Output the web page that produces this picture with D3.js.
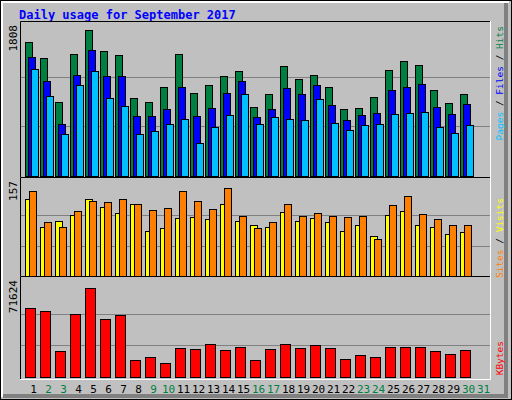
<!DOCTYPE html>
<html>
<head>
<script src="https://cdn.jsdelivr.net/npm/d3@7"></script>
<style>
body { margin: 0; background: #fff; }
text { font-family: "DejaVu Sans Mono", monospace; }
</style>
</head>
<body>
<svg id="chart" width="512" height="400"></svg>
<script>
var days = d3.range(1, 32);
var weekend = [2, 3, 9, 10, 16, 17, 23, 24, 30, 31];
var hits = [1623,1430,900,1479,1768,1515,1466,948,900,1081,1479,1009,1105,1213,1274,840,997,1334,1177,1225,1081,816,828,960,1286,1394,1346,1045,888,997,0];
var files = [1442,1153,635,1225,1527,1213,1213,731,731,816,1081,731,828,1009,1153,719,816,1069,997,1105,864,683,743,768,1045,1081,1117,840,756,876,0];
var pages = [1298,972,515,1105,1274,948,852,515,551,635,695,406,599,743,997,635,719,695,683,936,647,563,623,635,756,768,780,599,527,623,0];
var sites = [131,85,95,104,130,117,107,123,77,82,99,101,98,122,95,87,85,109,95,99,93,77,88,69,104,111,87,84,72,76,0];
var visits = [144,92,84,111,128,125,131,123,112,115,144,128,114,149,103,82,92,123,103,107,103,101,103,65,120,136,106,98,88,87,0];
var kbytes = [51875,49700,19300,47530,67070,43910,46810,12800,14980,10640,22210,20760,25100,20040,22930,12800,20760,25100,21490,24380,21490,13530,16420,14980,22930,22930,22930,19300,17150,20040,0];

var svg = d3.select("#chart");

// window frame
svg.append("rect").attr("x", 0.5).attr("y", 0.5).attr("width", 511).attr("height", 399)
	.attr("fill", "#c0c0c0").attr("stroke", "#000");
svg.append("path").attr("d", "M2,397V2H509").attr("fill", "none").attr("stroke", "#fff").attr("stroke-width", 2);
svg.append("path").attr("d", "M3,396H506V3").attr("fill", "none").attr("stroke", "#808080").attr("stroke-width", 4);

svg.append("text").attr("x", 19).attr("y", 19).text("Daily usage for September 2017")
	.attr("fill", "#0000ff").attr("font-size", 12).attr("font-weight", "bold");

var x = d3.scaleBand().domain(days).range([23, 488]);

var panels = [
	{ top: 25, bottom: 176, max: 1808, label: "1808", series: [[hits, "#008040"], [files, "#0000ff"], [pages, "#00c0ff"]] },
	{ top: 181, bottom: 278, max: 157, label: "157", series: [[sites, "#ffff00"], [visits, "#ff8000"]] },
	{ top: 280, bottom: 377, max: 71624, label: "71624", series: [[kbytes, "#ff0000"]] }
];

panels.forEach(function (p) {
	var y = d3.scaleLinear().domain([0, p.max]).range([p.bottom, p.top + 2]);
	var g = svg.append("g");
	g.append("rect").attr("x", 20).attr("y", p.top - 4).attr("width", 470).attr("height", p.bottom - p.top + 6)
		.attr("fill", "#c0c0c0");
	g.append("path").attr("d", "M20.5," + (p.bottom + 2) + "V" + (p.top - 3.5) + "H490")
		.attr("fill", "none").attr("stroke", "#000");
	g.append("path").attr("d", "M20," + (p.bottom + 2.5) + "H490.5V" + (p.top - 4))
		.attr("fill", "none").attr("stroke", "#fff");
	[1 / 3, 2 / 3].forEach(function (f) {
		g.append("line").attr("x1", 21).attr("x2", 490)
			.attr("y1", Math.round(y(p.max * f)) + 0.5).attr("y2", Math.round(y(p.max * f)) + 0.5)
			.attr("stroke", "#808080");
	});
	g.append("text").attr("transform", "translate(17," + (p.top) + ") rotate(-90)")
		.attr("text-anchor", "end").attr("font-size", 11).attr("fill", "#000").text(p.label);
	p.series.forEach(function (s, si) {
		var n = p.series.length;
		var off = n == 2 ? si * 4 : si * 3;
		var w = n == 1 ? 10 : 7;
		g.selectAll(null).data(s[0]).enter().filter(function (d) { return d > 0; })
			.append("rect")
			.attr("x", function (d, i) { return x(days[i]) + 2.5 + off; })
			.attr("y", function (d) { return Math.round(y(d)) + 0.5; })
			.attr("width", w)
			.attr("height", function (d) { return p.bottom - Math.round(y(d)); })
			.attr("fill", s[1]).attr("stroke", "#000");
	});
});

// day labels
svg.selectAll(".day").data(days).enter().append("text")
	.attr("x", function (d) { return x(d) + x.bandwidth() / 2 + 3; })
	.attr("y", 393).attr("text-anchor", "middle").attr("font-size", 11)
	.attr("fill", function (d) { return weekend.indexOf(d) >= 0 ? "#008040" : "#000"; })
	.text(function (d) { return d; });

// side legends
function legend(yEnd, parts) {
	var t = svg.append("text").attr("transform", "translate(503," + yEnd + ") rotate(-90)")
		.attr("font-size", 9.5).attr("text-anchor", "end");
	parts.forEach(function (p) { t.append("tspan").attr("fill", p[1]).text(p[0]); });
}
legend(26, [["Pages", "#00c0ff"], [" / ", "#000"], ["Files", "#0000ff"], [" / ", "#000"], ["Hits", "#008040"]]);
legend(198, [["Sites", "#ff8000"], [" / ", "#000"], ["Visits", "#ffff00"]]);
legend(341, [["KBytes", "#ff0000"]]);
</script>
</body>
</html>
